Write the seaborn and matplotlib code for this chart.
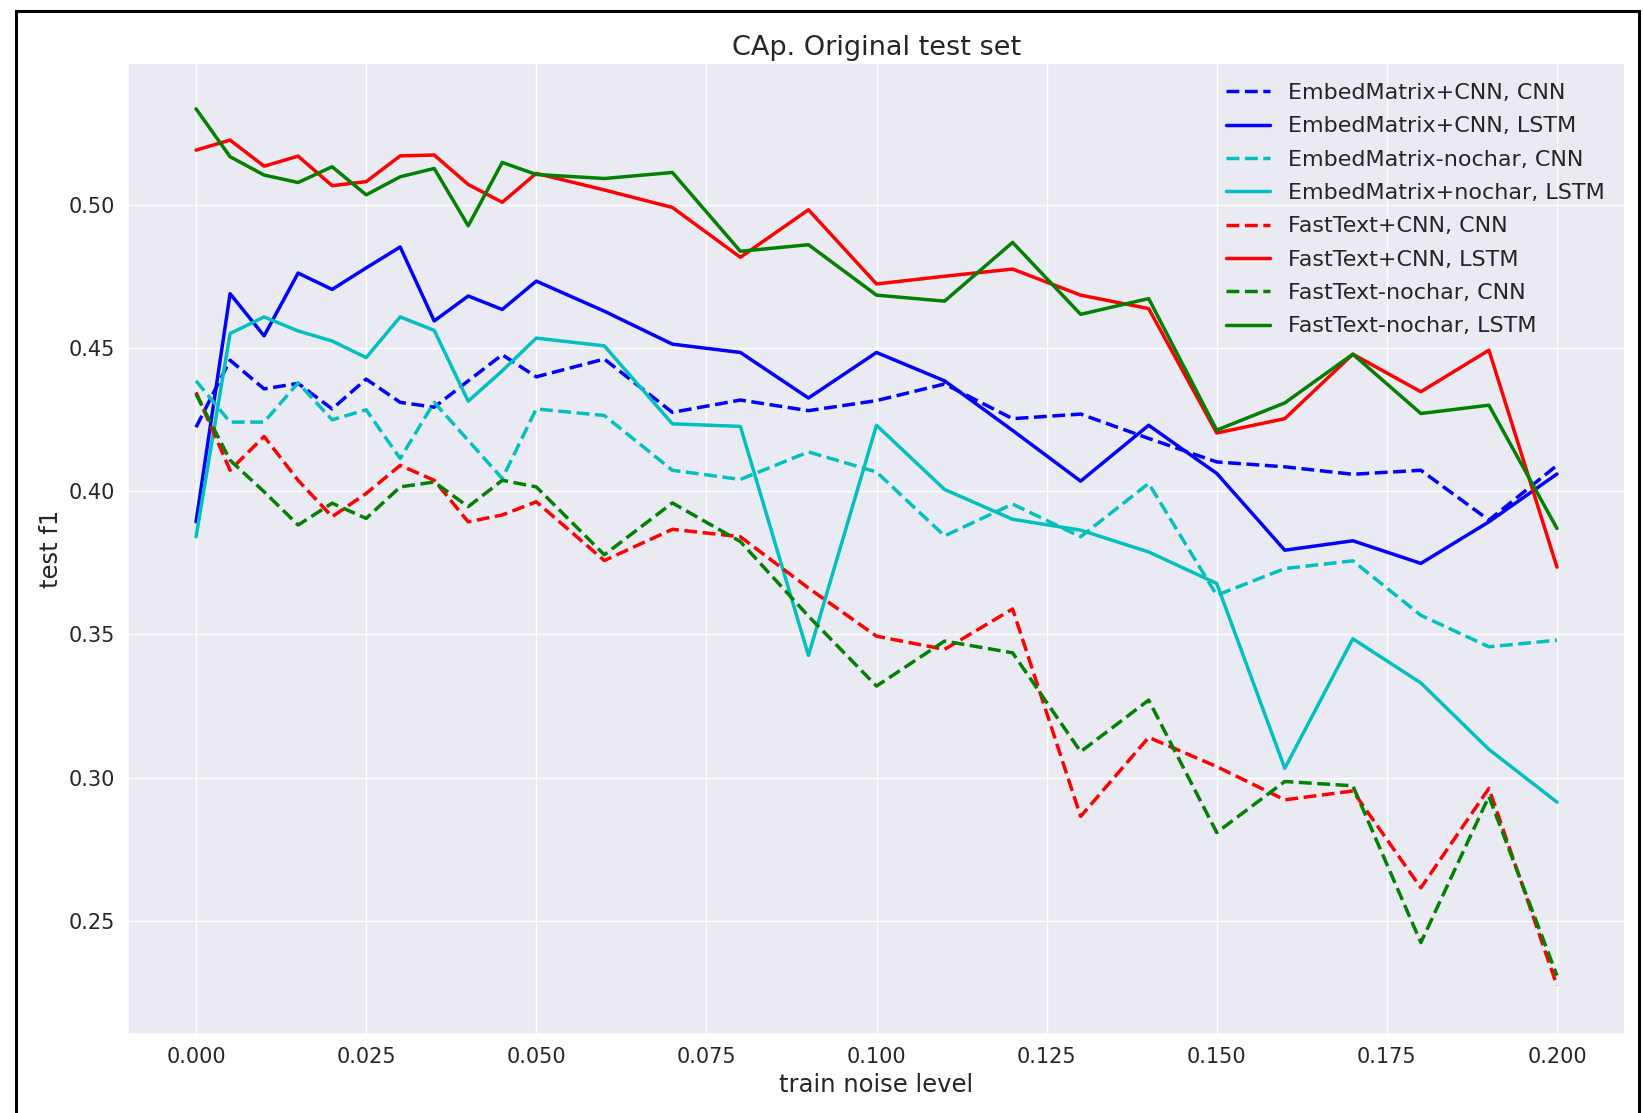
import numpy as np
import pandas as pd
import matplotlib
matplotlib.use("Agg")
import matplotlib.pyplot as plt
from matplotlib.patches import Rectangle
import seaborn as sns

# train noise levels
noise = [0.000, 0.005, 0.010, 0.015, 0.020, 0.025, 0.030, 0.035, 0.040, 0.045, 0.050,
         0.060, 0.070, 0.080, 0.090, 0.100, 0.110, 0.120, 0.130, 0.140, 0.150,
         0.160, 0.170, 0.180, 0.190, 0.200]

# test f1 for each setup
emb_cnn_cnn = [0.4223, 0.4457, 0.4357, 0.4376, 0.4287, 0.4391, 0.4310, 0.4293, 0.4385, 0.4476, 0.4399,
               0.4461, 0.4275, 0.4318, 0.4281, 0.4316, 0.4374, 0.4253, 0.4269, 0.4184, 0.4102,
               0.4085, 0.4059, 0.4073, 0.3899, 0.4090]
emb_cnn_lstm = [0.3893, 0.4689, 0.4542, 0.4761, 0.4704, 0.4779, 0.4852, 0.4594, 0.4681, 0.4634, 0.4733,
                0.4628, 0.4513, 0.4484, 0.4325, 0.4484, 0.4385, 0.4212, 0.4035, 0.4230, 0.4062,
                0.3794, 0.3827, 0.3748, 0.3893, 0.4060]
emb_nochar_cnn = [0.4385, 0.4241, 0.4241, 0.4378, 0.4249, 0.4284, 0.4114, 0.4310, 0.4177, 0.4044, 0.4287,
                  0.4264, 0.4073, 0.4041, 0.4137, 0.4067, 0.3844, 0.3955, 0.3841, 0.4027, 0.3637,
                  0.3730, 0.3757, 0.3567, 0.3457, 0.3480]
emb_nochar_lstm = [0.3841, 0.4550, 0.4608, 0.4559, 0.4524, 0.4466, 0.4608, 0.4561, 0.4314, 0.4420, 0.4534,
                   0.4507, 0.4235, 0.4226, 0.3427, 0.4230, 0.4006, 0.3902, 0.3864, 0.3788, 0.3678,
                   0.3033, 0.3485, 0.3331, 0.3099, 0.2915]
ft_cnn_cnn = [0.4345, 0.4073, 0.4191, 0.4038, 0.3911, 0.3992, 0.4090, 0.4038, 0.3893, 0.3917, 0.3963,
              0.3758, 0.3867, 0.3841, 0.3662, 0.3494, 0.3448, 0.3589, 0.2865, 0.3141, 0.3039,
              0.2923, 0.2954, 0.2616, 0.2963, 0.2275]
ft_cnn_lstm = [0.5190, 0.5225, 0.5134, 0.5169, 0.5066, 0.5080, 0.5170, 0.5173, 0.5070, 0.5008, 0.5109,
               0.5051, 0.4990, 0.4816, 0.4982, 0.4723, 0.4750, 0.4775, 0.4684, 0.4637, 0.4203,
               0.4253, 0.4478, 0.4347, 0.4492, 0.3735]
ft_nochar_cnn = [0.4339, 0.4108, 0.3998, 0.3882, 0.3958, 0.3905, 0.4015, 0.4032, 0.3946, 0.4038, 0.4015,
                 0.3778, 0.3959, 0.3824, 0.3564, 0.3320, 0.3477, 0.3436, 0.3091, 0.3271, 0.2809,
                 0.2987, 0.2972, 0.2425, 0.2935, 0.2310]
ft_nochar_lstm = [0.5334, 0.5167, 0.5103, 0.5077, 0.5132, 0.5034, 0.5097, 0.5126, 0.4926, 0.5147, 0.5105,
                  0.5091, 0.5112, 0.4837, 0.4860, 0.4684, 0.4663, 0.4868, 0.4617, 0.4672, 0.4213,
                  0.4308, 0.4478, 0.4271, 0.4300, 0.3870]

labels = ["EmbedMatrix+CNN, CNN", "EmbedMatrix+CNN, LSTM",
          "EmbedMatrix-nochar, CNN", "EmbedMatrix+nochar, LSTM",
          "FastText+CNN, CNN", "FastText+CNN, LSTM",
          "FastText-nochar, CNN", "FastText-nochar, LSTM"]
series = [emb_cnn_cnn, emb_cnn_lstm, emb_nochar_cnn, emb_nochar_lstm,
          ft_cnn_cnn, ft_cnn_lstm, ft_nochar_cnn, ft_nochar_lstm]
colors = ["#0000ff", "#0000ff", "#00bfbf", "#00bfbf",
          "#ff0000", "#ff0000", "#008000", "#008000"]
dash_styles = [(3.7, 1.6), "", (3.7, 1.6), "", (3.7, 1.6), "", (3.7, 1.6), ""]

df = pd.concat([pd.DataFrame({"noise": noise, "f1": vals, "run": lab})
                for lab, vals in zip(labels, series)], ignore_index=True)

sns.set_theme(style="darkgrid", context="notebook")
plt.rcParams["font.family"] = ["DejaVu Sans"]

fig = plt.figure(figsize=(16.43, 11.13), dpi=100)
ax = fig.add_axes([128 / 1643, 1 - 1034 / 1113, (1625 - 128) / 1643, (1034 - 63) / 1113])

sns.lineplot(data=df, x="noise", y="f1", hue="run", style="run",
             hue_order=labels, style_order=labels,
             palette=dict(zip(labels, colors)), dashes=dict(zip(labels, dash_styles)),
             estimator=None, sort=False, linewidth=2.5, ax=ax)

ax.set_xlim(-0.01, 0.21)
ax.set_ylim(0.2106, 0.5494)
ax.set_xticks(np.arange(0, 0.2001, 0.025))
ax.set_yticks([0.25, 0.30, 0.35, 0.40, 0.45, 0.50])
ax.tick_params(labelsize=15)
ax.set_title("CAp. Original test set", fontsize=19.5)
ax.set_xlabel("train noise level", fontsize=17.5)
ax.set_ylabel("test f1", fontsize=17.5)
ax.legend(loc="upper right", fontsize=16, frameon=False, labelspacing=0.6)

# black frame around the screenshot (bottom edge cut off)
fig.patches.append(Rectangle((16 / 1643, -0.05), (1639 - 16) / 1643, 1.05 - 11 / 1113,
                             transform=fig.transFigure, fill=False,
                             edgecolor="black", linewidth=2.2))

fig.savefig("out.png", dpi=100)
